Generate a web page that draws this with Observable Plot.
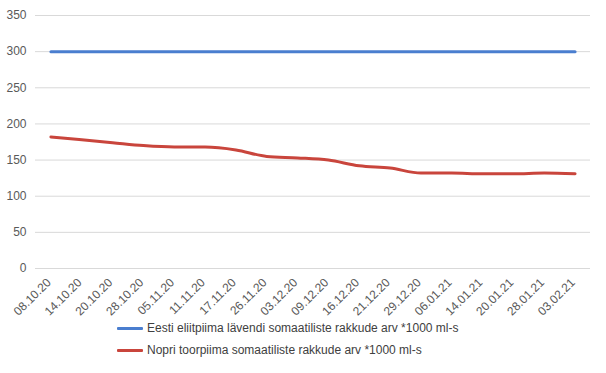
<!DOCTYPE html>
<html>
<head>
<meta charset="utf-8">
<script src="https://cdn.jsdelivr.net/npm/d3@7"></script>
<script src="https://cdn.jsdelivr.net/npm/@observablehq/plot@0.6"></script>
<style>
  html, body { margin: 0; padding: 0; background: #fff; }
  #chart { width: 606px; height: 373px; position: relative; font-family: "Liberation Sans", Arial, sans-serif; }
  .legend { position: absolute; left: 117px; font-size: 12px; color: #404040; }
  .legend .row { display: flex; align-items: center; height: 22px; }
  .legend .sw { width: 26px; height: 3px; margin-right: 4px; border-radius: 1px; }
</style>
</head>
<body>
<div id="chart"></div>
<script>
const dates = ["08.10.20","14.10.20","20.10.20","28.10.20","05.11.20","11.11.20","17.11.20","26.11.20","03.12.20","09.12.20","16.12.20","21.12.20","29.12.20","06.01.21","14.01.21","20.01.21","28.01.21","03.02.21"];
const thresholdValues = [300,300,300,300,300,300,300,300,300,300,300,300,300,300,300,300,300,300];
const nopriValues = [182,178,174,170,168,168,164,155,153,150,142,139,132,132,131,131,132,131];
const seriesNames = ["Eesti eliitpiima lävendi somaatiliste rakkude arv *1000 ml-s", "Nopri toorpiima somaatiliste rakkude arv *1000 ml-s"];
const seriesColors = ["#4a7ecf", "#c9453c"];
const yTicks = [0,50,100,150,200,250,300,350];

const rows = [];
dates.forEach((d, i) => {
  rows.push({date: d, value: thresholdValues[i], series: seriesNames[0]});
  rows.push({date: d, value: nopriValues[i], series: seriesNames[1]});
});

const plot = Plot.plot({
  width: 606,
  height: 320,
  marginLeft: 35,
  marginRight: 16,
  marginTop: 15,
  marginBottom: 52,
  style: {fontFamily: "'Liberation Sans', Arial, sans-serif", fontSize: "12px", color: "#595959", background: "#fff", overflow: "visible"},
  x: {type: "point", domain: dates, padding: 0.5, round: false, label: null},
  y: {domain: [0, 350], ticks: yTicks, label: null},
  color: {domain: seriesNames, range: seriesColors},
  marks: [
    Plot.gridY(yTicks, {stroke: "#d9d9d9", strokeOpacity: 1, strokeWidth: 1}),
    Plot.axisY(yTicks, {tickSize: 0, tickPadding: 9, label: null, fontSize: 12}),
    Plot.axisX({tickSize: 0, tickRotate: -45, tickPadding: 4, dy: 8, dx: -2, label: null, fontSize: 12}),
    Plot.line(rows, {x: "date", y: "value", z: "series", stroke: "series", strokeWidth: 3, curve: "monotone-x"})
  ]
});

const chart = document.getElementById("chart");
chart.appendChild(plot);
const legend = document.createElement("div");
legend.className = "legend";
legend.style.top = "317px";
seriesNames.forEach((name, i) => {
  const row = document.createElement("div");
  row.className = "row";
  const sw = document.createElement("div");
  sw.className = "sw";
  sw.style.background = seriesColors[i];
  const t = document.createElement("span");
  t.textContent = name;
  row.appendChild(sw);
  row.appendChild(t);
  legend.appendChild(row);
});
chart.appendChild(legend);
</script>
</body>
</html>
